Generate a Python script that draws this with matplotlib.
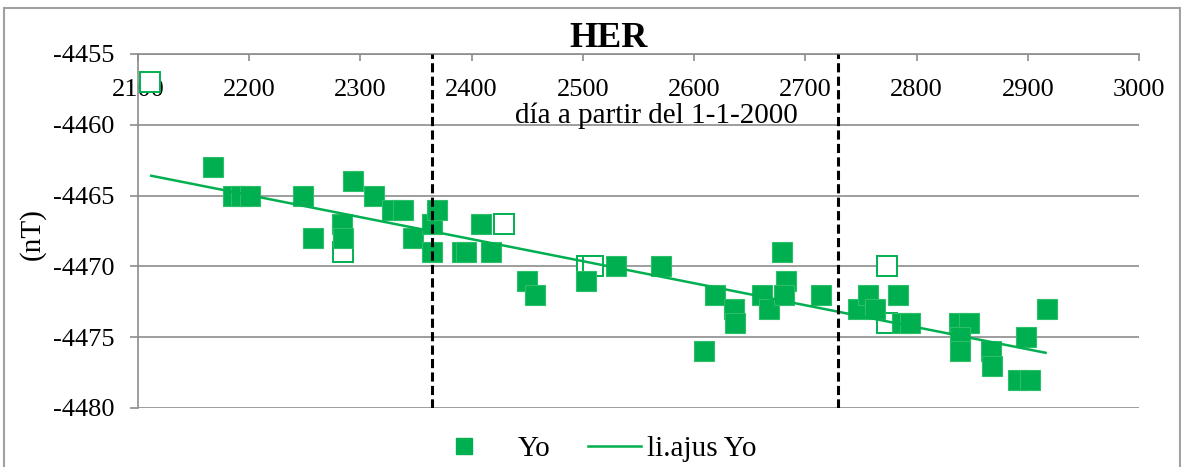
import matplotlib
matplotlib.use("Agg")
import matplotlib.pyplot as plt
from matplotlib.lines import Line2D
from matplotlib.patches import Rectangle

plt.rcParams['font.family'] = ['Liberation Serif', 'DejaVu Serif']
plt.rcParams['axes.unicode_minus'] = False

# datos Yo (día a partir del 1-1-2000, nT)
dias_yo = [2167, 2185, 2193, 2201, 2248, 2257, 2283, 2284, 2293, 2312,
           2328, 2338, 2347, 2364, 2364, 2369, 2391, 2395, 2408, 2417,
           2450, 2457, 2503, 2530, 2570, 2609, 2619, 2636, 2637, 2661,
           2667, 2679, 2683, 2681, 2714, 2747, 2756, 2763, 2783, 2787,
           2794, 2838, 2847, 2839, 2839, 2867, 2868, 2898, 2891, 2902,
           2917]
yo = [-4463, -4465, -4465, -4465, -4465, -4468, -4467, -4468, -4464, -4465,
      -4466, -4466, -4468, -4469, -4467, -4466, -4469, -4469, -4467, -4469,
      -4471, -4472, -4471, -4470, -4470, -4476, -4472, -4473, -4474, -4472,
      -4473, -4469, -4471, -4472, -4472, -4473, -4472, -4473, -4472, -4474,
      -4474, -4474, -4474, -4475, -4476, -4476, -4477, -4475, -4478, -4478,
      -4473]

# puntos descartados (cuadros vacíos)
dias_desc = [2111, 2284, 2429, 2504, 2509, 2773, 2773]
yo_desc = [-4457, -4469, -4467, -4470, -4470, -4470, -4474]

# ajuste lineal (extremos)
ajuste_x = [2112, 2916]
ajuste_y = [-4463.6, -4476.1]

# separaciones de periodos
limites = [2364, 2729]

verde = '#00B050'
gris = '#8c8c8c'

fig = plt.figure(figsize=(11.81, 4.67), dpi=100)
ax = fig.add_axes([138/1181, 59/467, 1001/1181, 354/467])

ax.plot(dias_desc, yo_desc, 's', ms=14, mfc='white', mec=verde, mew=1.4, zorder=3)
ax.plot(dias_yo, yo, 's', ms=15, mfc=verde, mec='#2bbf68', mew=0.8, zorder=4)
ax.plot(ajuste_x, ajuste_y, '-', color=verde, lw=1.8, zorder=5)
for x in limites:
    ax.axvline(x, color='black', lw=2.2, ls=(0, (3, 1.4)), zorder=6)

ax.set_xlim(2100, 3000)
ax.set_ylim(-4480, -4455)
ax.set_xticks(range(2100, 3001, 100))
ax.set_yticks(range(-4480, -4454, 5))
ax.yaxis.grid(True, color=gris, lw=1.2)
ax.set_axisbelow(True)

for s in ['right', 'bottom']:
    ax.spines[s].set_visible(False)
for s in ['left', 'top']:
    ax.spines[s].set_color(gris)
    ax.spines[s].set_linewidth(1.2)

ax.xaxis.tick_top()
ax.tick_params(axis='x', direction='in', length=5, color=gris, width=1.2,
               labelsize=19, pad=-34)
ax.tick_params(axis='y', direction='out', length=6, color=gris, width=1.2,
               labelsize=19, pad=11)

ax.text(0.5175, 0.805, 'día a partir del 1-1-2000', transform=ax.transAxes,
        ha='center', va='baseline', fontsize=21)
ax.set_ylabel('(nT)', fontsize=21, va='center')
ax.yaxis.set_label_coords(-0.106, 0.4915)

fig.text(609/1181, 1 - 46.7/467, 'HER', ha='center', va='baseline',
         fontsize=26, fontweight='bold')

h1 = Line2D([], [], ls='none', marker='s', ms=12, mfc=verde, mec=verde)
h2 = Line2D([], [], color=verde, lw=1.8)
leg1 = fig.legend([h1], ['Yo'], loc='center left', bbox_to_anchor=(449/1181, 18/467),
                  frameon=False, fontsize=21, handlelength=1.0, handletextpad=1.36,
                  borderpad=0, borderaxespad=0)
leg2 = fig.legend([h2], ['li.ajus Yo'], loc='center left', bbox_to_anchor=(588/1181, 18/467),
                  frameon=False, fontsize=21, handlelength=1.83, handletextpad=0.2,
                  borderpad=0, borderaxespad=0)

fig.patches.append(Rectangle((4/1181, -0.01), 1176/1181, 0.993, transform=fig.transFigure,
                             fill=False, edgecolor='#a0a0a0', lw=1.5))

fig.savefig('out.png', dpi=100)
